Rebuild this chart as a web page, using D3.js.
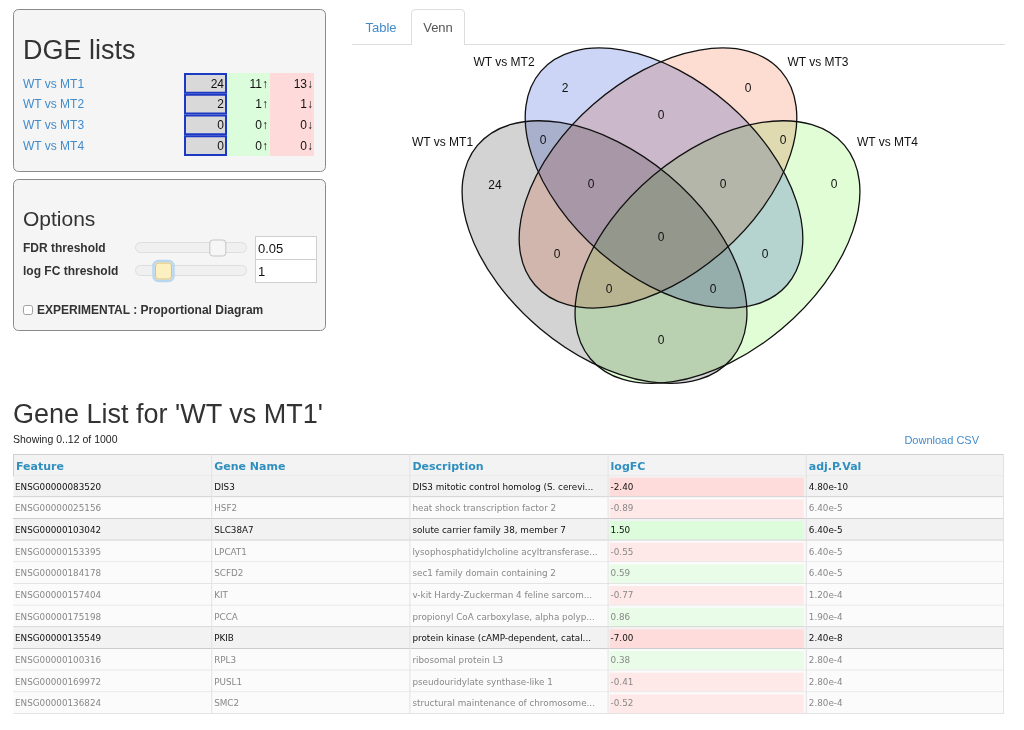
<!DOCTYPE html>
<html><head><meta charset="utf-8">
<script src="https://cdn.jsdelivr.net/npm/d3@7"></script>
<style>
body{margin:0;background:#fff;}
svg text{font-family:"Liberation Sans",Arial,Helvetica,sans-serif;}
.venn-fill{mix-blend-mode:multiply;}
.tbl text{font-family:"DejaVu Sans",Verdana,sans-serif;}
</style></head><body>
<svg id="c" width="1024" height="730"></svg>
<script>
// ---------------- data ----------------
const comparisons = ["WT vs MT1", "WT vs MT2", "WT vs MT3", "WT vs MT4"];
const totals = [24, 2, 0, 0];
const upCounts = [11, 1, 0, 0];
const downCounts = [13, 1, 0, 0];
const fdrSteps = [0.00001, 0.0001, 0.001, 0.01, 0.05, 1];
const fdrThreshold = 0.05;
const logFCThreshold = 1;
const vennRegions = ["1", "2", "3", "4", "12", "23", "34", "123", "234", "1234", "13", "24", "134", "124", "14"];
const vennCounts = [24, 2, 0, 0, 0, 0, 0, 0, 0, 0, 0, 0, 0, 0, 0];
const tableColumns = ["Feature", "Gene Name", "Description", "logFC", "adj.P.Val"];
const features = ["ENSG00000083520", "ENSG00000025156", "ENSG00000103042", "ENSG00000153395", "ENSG00000184178", "ENSG00000157404", "ENSG00000175198", "ENSG00000135549", "ENSG00000100316", "ENSG00000169972", "ENSG00000136824"];
const geneNames = ["DIS3", "HSF2", "SLC38A7", "LPCAT1", "SCFD2", "KIT", "PCCA", "PKIB", "RPL3", "PUSL1", "SMC2"];
const descriptions = ["DIS3 mitotic control homolog (S. cerevi...", "heat shock transcription factor 2", "solute carrier family 38, member 7", "lysophosphatidylcholine acyltransferase...", "sec1 family domain containing 2", "v-kit Hardy-Zuckerman 4 feline sarcom...", "propionyl CoA carboxylase, alpha polyp...", "protein kinase (cAMP-dependent, catal...", "ribosomal protein L3", "pseudouridylate synthase-like 1", "structural maintenance of chromosome..."];
const logFC = [-2.40, -0.89, 1.50, -0.55, 0.59, -0.77, 0.86, -7.00, 0.38, -0.41, -0.52];
const adjPVal = [4.80e-10, 6.40e-5, 6.40e-5, 6.40e-5, 6.40e-5, 1.20e-4, 1.90e-4, 2.40e-8, 2.80e-4, 2.80e-4, 2.80e-4];
const totalGenes = 1000;

// ---------------- page ----------------
const svg = d3.select("#c");
const linkBlue = "#428bca";

// ===== DGE lists panel =====
svg.append("rect").attr("x", 13.5).attr("y", 9.5).attr("width", 312).attr("height", 162).attr("rx", 5)
  .attr("fill", "#f5f5f5").attr("stroke", "#8a8a8a");
svg.append("text").attr("x", 23).attr("y", 59).attr("font-size", 27).attr("fill", "#333").text("DGE lists");

const rowY = d3.scaleBand().domain(comparisons).range([73, 156]);
const dge = svg.append("g");
dge.append("rect").attr("x", 227).attr("y", rowY.range()[0]).attr("width", 43).attr("height", rowY.range()[1] - rowY.range()[0]).attr("fill", "#dcfddc");
dge.append("rect").attr("x", 270).attr("y", rowY.range()[0]).attr("width", 44).attr("height", rowY.range()[1] - rowY.range()[0]).attr("fill", "#ffdada");
comparisons.forEach((c, i) => {
  const y = rowY(c), h = rowY.bandwidth(), m = y + h / 2;
  dge.append("text").attr("x", 23).attr("y", m).attr("dy", "0.35em").attr("font-size", 12).attr("fill", linkBlue).text(c);
  dge.append("rect").attr("x", 185).attr("y", y + 1).attr("width", 41).attr("height", h - 2)
    .attr("fill", "#d9d9d9").attr("stroke", "#1c39c4").attr("stroke-width", 2);
  dge.append("text").attr("x", 224).attr("y", m).attr("dy", "0.35em").attr("text-anchor", "end").attr("font-size", 12).attr("fill", "#111").text(totals[i]);
  dge.append("text").attr("x", 268).attr("y", m).attr("dy", "0.35em").attr("text-anchor", "end").attr("font-size", 12).attr("fill", "#111").text(upCounts[i] + "\u2191");
  dge.append("text").attr("x", 313).attr("y", m).attr("dy", "0.35em").attr("text-anchor", "end").attr("font-size", 12).attr("fill", "#111").text(downCounts[i] + "\u2193");
});

// ===== Options panel =====
svg.append("rect").attr("x", 13.5).attr("y", 179.5).attr("width", 312).attr("height", 151).attr("rx", 5)
  .attr("fill", "#f5f5f5").attr("stroke", "#8a8a8a");
svg.append("text").attr("x", 23).attr("y", 226).attr("font-size", 21).attr("fill", "#333").text("Options");
const sliderX = d3.scaleLinear().domain([0, fdrSteps.length - 1]).range([143, 239]);
const lfcX = d3.scaleLinear().domain([0, 4]).range([135, 247]);
const opts = [
  {label: "FDR threshold", y: 248, value: "0.05", hx: sliderX(fdrSteps.indexOf(fdrThreshold)) - 2, active: false},
  {label: "log FC threshold", y: 271, value: String(logFCThreshold), hx: lfcX(logFCThreshold) + 0.5, active: true}
];
opts.forEach(o => {
  svg.append("text").attr("x", 23).attr("y", o.y).attr("dy", "0.35em").attr("font-size", 12).attr("font-weight", "bold").attr("fill", "#333").text(o.label);
  svg.append("rect").attr("x", 135.5).attr("y", o.y - 5.5).attr("width", 111).attr("height", 10).attr("rx", 5)
    .attr("fill", "#f0f0f0").attr("stroke", "#dedede");
  if (o.active) {
    svg.append("rect").attr("x", o.hx - 10).attr("y", o.y - 10).attr("width", 20).attr("height", 20).attr("rx", 5)
      .attr("fill", "none").attr("stroke", "#b9d6ef").attr("stroke-width", 2.5);
  }
  svg.append("rect").attr("x", o.hx - 8).attr("y", o.y - 8).attr("width", 16).attr("height", 16).attr("rx", 3)
    .attr("fill", o.active ? "#fcefc0" : "#f6f6f6").attr("stroke", o.active ? "#d8c27a" : "#c5c5c5");
  svg.append("rect").attr("x", 255.5).attr("y", o.y - 11.5).attr("width", 61).attr("height", 23)
    .attr("fill", "#fff").attr("stroke", "#cfcfcf");
  svg.append("text").attr("x", 258).attr("y", o.y).attr("dy", "0.35em").attr("font-size", 13).attr("fill", "#111").text(o.value);
});
svg.append("rect").attr("x", 23.5).attr("y", 305.5).attr("width", 9).attr("height", 9).attr("rx", 2)
  .attr("fill", "#fff").attr("stroke", "#a0a0a0");
svg.append("text").attr("x", 37).attr("y", 309.5).attr("dy", "0.35em").attr("font-size", 12).attr("font-weight", "bold").attr("fill", "#333")
  .text("EXPERIMENTAL : Proportional Diagram");

// ===== Tabs =====
svg.append("line").attr("x1", 352).attr("x2", 1005).attr("y1", 44.5).attr("y2", 44.5).attr("stroke", "#ddd");
svg.append("path").attr("d", "M411.5,45 V13 Q411.5,9.5 415,9.5 H461 Q464.5,9.5 464.5,13 V45")
  .attr("fill", "#fff").attr("stroke", "#ddd");
svg.append("line").attr("x1", 412).attr("x2", 464).attr("y1", 44.5).attr("y2", 44.5).attr("stroke", "#fff").attr("stroke-width", 1.5);
svg.append("text").attr("x", 381).attr("y", 27).attr("dy", "0.35em").attr("text-anchor", "middle").attr("font-size", 13).attr("fill", linkBlue).text("Table");
svg.append("text").attr("x", 438).attr("y", 27).attr("dy", "0.35em").attr("text-anchor", "middle").attr("font-size", 13).attr("fill", "#555").text("Venn");

// ===== Venn =====
const unit = 457;
const vx = d3.scaleLinear().domain([0, 1]).range([661 - unit / 2, 661 + unit / 2]);
const vy = d3.scaleLinear().domain([0, 1]).range([253 + 0.47 * unit, 253 - 0.53 * unit]);
const ellipses = [
  {set: 0, cx: 0.3764, cy: 0.472, a: 0.363, b: 0.219, rot: 40, fill: "#d3d3d3", lx: 0.0219, ly: 0.713},
  {set: 1, cx: 0.5066, cy: 0.6341, a: 0.3567, b: 0.2144, rot: 41, fill: "#cdd5f7", lx: 0.1565, ly: 0.888},
  {set: 2, cx: 0.4934, cy: 0.6341, a: 0.3567, b: 0.2144, rot: -41, fill: "#fddcd1", lx: 0.8435, ly: 0.888},
  {set: 3, cx: 0.6236, cy: 0.472, a: 0.363, b: 0.219, rot: -40, fill: "#e1fdd6", lx: 0.9956, ly: 0.713}
];
const regionPos = {
  "1": [0.1368, 0.6188], "2": [0.2899, 0.831], "3": [0.6904, 0.831], "4": [0.8786, 0.621],
  "12": [0.2418, 0.7173], "23": [0.5, 0.772], "34": [0.767, 0.7173],
  "123": [0.3468, 0.621], "234": [0.6357, 0.621], "1234": [0.5, 0.505],
  "13": [0.2724, 0.4678], "24": [0.7276, 0.4678], "134": [0.3862, 0.3912], "124": [0.6138, 0.3912], "14": [0.5, 0.2796]
};
const len = v => vx(v) - vx(0);
const venn = svg.append("g");
venn.selectAll("ellipse.venn-fill").data(ellipses).join("ellipse").attr("class", "venn-fill")
  .attr("rx", d => len(d.a)).attr("ry", d => len(d.b))
  .attr("transform", d => `translate(${vx(d.cx)},${vy(d.cy)}) rotate(${d.rot})`)
  .attr("fill", d => d.fill);
venn.selectAll("ellipse.venn-line").data(ellipses).join("ellipse").attr("class", "venn-line")
  .attr("rx", d => len(d.a)).attr("ry", d => len(d.b))
  .attr("transform", d => `translate(${vx(d.cx)},${vy(d.cy)}) rotate(${d.rot})`)
  .attr("fill", "none").attr("stroke", "#111").attr("stroke-width", 1.3);
venn.selectAll("text.set").data(ellipses).join("text").attr("class", "set")
  .attr("x", d => vx(d.lx)).attr("y", d => vy(d.ly)).attr("dy", "0.35em").attr("text-anchor", "middle")
  .attr("font-size", 12).attr("fill", "#111").text(d => comparisons[d.set]);
venn.selectAll("text.cnt").data(vennRegions).join("text").attr("class", "cnt")
  .attr("x", d => vx(regionPos[d][0])).attr("y", d => vy(regionPos[d][1])).attr("dy", "0.35em").attr("text-anchor", "middle")
  .attr("font-size", 12).attr("fill", "#111").text((d, i) => vennCounts[i]);

// ===== Gene list =====
svg.append("text").attr("x", 13).attr("y", 423).attr("font-size", 27).attr("fill", "#333").text("Gene List for '" + comparisons[0] + "'");
svg.append("text").attr("x", 13).attr("y", 443).attr("font-size", 10.5).attr("fill", "#222").text(`Showing 0..${features.length + 1} of ${totalGenes}`);
svg.append("text").attr("x", 979).attr("y", 440).attr("dy", "0.35em").attr("text-anchor", "end").attr("font-size", 11).attr("fill", linkBlue).text("Download CSV");

const tbl = svg.append("g").attr("class", "tbl");
const colX = d3.scaleBand().domain(tableColumns).range([13, 1004]);
const rowH = 21.67;
const headTop = 454;
const bodyTop = headTop + rowH;
const rowsY = d3.scaleBand().domain(d3.range(features.length)).range([bodyTop, bodyTop + rowH * features.length]);
const rows = features.map((f, i) => ({
  i, cells: [f, geneNames[i], descriptions[i], logFC[i].toFixed(2), adjPVal[i].toExponential(2)],
  sig: Math.abs(logFC[i]) >= logFCThreshold && adjPVal[i] <= fdrThreshold
}));
// header
tbl.append("rect").attr("x", 13.5).attr("y", headTop + 0.5).attr("width", 990).attr("height", rowH).attr("fill", "#f3f3f3").attr("stroke", "#cfcfcf");
tableColumns.forEach(c => {
  tbl.append("text").attr("x", colX(c) + 3).attr("y", headTop + rowH / 2 + 1).attr("dy", "0.35em")
    .attr("font-size", 11).attr("font-weight", "bold").attr("fill", "#2f8fbf").text(c);
});
// body rows
const rg = tbl.selectAll("g.row").data(rows).join("g").attr("class", "row");
rg.append("rect").attr("x", 13.5).attr("y", d => rowsY(d.i)).attr("width", 990).attr("height", rowsY.bandwidth())
  .attr("fill", d => d.sig ? "#f2f2f2" : "#fbfbfb");
rg.append("rect").attr("x", colX("logFC") + 2).attr("y", d => rowsY(d.i) + 2).attr("width", colX.bandwidth() - 4).attr("height", rowsY.bandwidth() - 3)
  .attr("fill", d => logFC[d.i] < 0 ? (d.sig ? "#ffdcdc" : "#ffe8e8") : (d.sig ? "#dcfcdc" : "#e8fce8"));
rg.append("line").attr("x1", 13).attr("x2", 1004).attr("y1", d => rowsY(d.i) + rowsY.bandwidth() - 0.5).attr("y2", d => rowsY(d.i) + rowsY.bandwidth() - 0.5)
  .attr("stroke", d => (d.sig || (rows[d.i + 1] && rows[d.i + 1].sig)) ? "#cccccc" : "#e4e4e4");
tableColumns.forEach((c, ci) => {
  rg.append("text").attr("x", colX(c) + (ci === 0 ? 2 : 3)).attr("y", d => rowsY(d.i) + rowsY.bandwidth() / 2).attr("dy", "0.35em")
    .attr("font-size", 8.8).attr("fill", d => d.sig ? "#111" : "#888").text(d => d.cells[ci]);
});
tableColumns.slice(1).forEach(c => {
  tbl.append("line").attr("x1", colX(c) + 0.5).attr("x2", colX(c) + 0.5).attr("y1", headTop).attr("y2", rowsY.range()[1])
    .attr("stroke", "#e2e2e2");
});
tbl.append("line").attr("x1", 1003.5).attr("x2", 1003.5).attr("y1", headTop).attr("y2", rowsY.range()[1]).attr("stroke", "#e2e2e2");
</script>
</body></html>
